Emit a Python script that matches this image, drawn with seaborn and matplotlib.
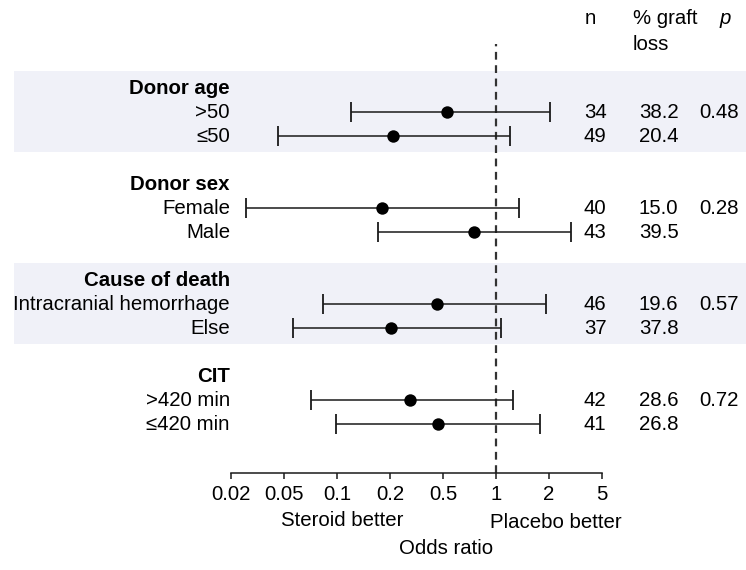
import numpy as np
import pandas as pd
import matplotlib
matplotlib.use("Agg")
import matplotlib.pyplot as plt
import matplotlib.transforms as mtransforms
import seaborn as sns

# ---------------- data ----------------
groups = ["Donor age", "Donor sex", "Cause of death", "CIT"]
subgroups = [">50", "≤50", "Female", "Male", "Intracranial hemorrhage", "Else",
             ">420 min", "≤420 min"]
group_of = [0, 0, 1, 1, 2, 2, 3, 3]
odds_ratio = [0.53, 0.21, 0.18, 0.755, 0.45, 0.205, 0.285, 0.46]
ci_low = [0.12, 0.045, 0.026, 0.17, 0.083, 0.056, 0.071, 0.098]
ci_high = [2.04, 1.2, 1.35, 2.93, 1.94, 1.07, 1.25, 1.79]
n_vals = ["34", "49", "40", "43", "46", "37", "42", "41"]
graft_loss = ["38.2", "20.4", "15.0", "39.5", "19.6", "37.8", "28.6", "26.8"]
p_vals = ["0.48", "0.28", "0.57", "0.72"]
tick_vals = [0.02, 0.05, 0.1, 0.2, 0.5, 1, 2, 5]
tick_labels = ["0.02", "0.05", "0.1", "0.2", "0.5", "1", "2", "5"]

# ---------------- style ----------------
sns.set_theme(style="white")
plt.rcParams["font.family"] = ["Liberation Sans", "DejaVu Sans"]
plt.rcParams["text.color"] = "black"
plt.rcParams["xtick.color"] = "black"
plt.rcParams["xtick.labelcolor"] = "black"
FS = 14.7
W, H = 746, 570

fig = plt.figure(figsize=(W / 100, H / 100), dpi=100)
x0, x1 = 231.3, 601.7
ytop, ybot = 44, 473
ax = fig.add_axes([x0 / W, (H - ybot) / H, (x1 - x0) / W, (ybot - ytop) / H])

# piecewise log scale with equally spaced ticks
lt = np.log(np.array(tick_vals, float))
idx = np.arange(len(tick_vals), dtype=float)


def fwd(x):
    x = np.asarray(x, float)
    lx = np.log(np.clip(x, 1e-12, None))
    y = np.interp(lx, lt, idx)
    y = np.where(lx < lt[0], (lx - lt[0]) / (lt[1] - lt[0]), y)
    y = np.where(lx > lt[-1], idx[-1] + (lx - lt[-1]) / (lt[-1] - lt[-2]), y)
    return y


def inv(y):
    y = np.asarray(y, float)
    lx = np.interp(y, idx, lt)
    lx = np.where(y < 0, lt[0] + y * (lt[1] - lt[0]), lx)
    lx = np.where(y > idx[-1], lt[-1] + (y - idx[-1]) * (lt[-1] - lt[-2]), lx)
    return np.exp(lx)


ax.set_xscale("function", functions=(fwd, inv))

# layout: slot units (pixel = 88 + 24*slot)
row_y = [g * 4 + (i % 2) + 1 for i, g in enumerate(group_of)]
head_y = [g * 4 for g in range(len(groups))]
slot_px, off_px = 24.0, 88.0
ax.set_ylim((ybot - off_px) / slot_px, (ytop - off_px) / slot_px)
ax.set_xlim(tick_vals[0], tick_vals[-1])

df = pd.DataFrame({"label": subgroups, "or": odds_ratio, "lo": ci_low,
                   "hi": ci_high, "y": row_y})

# shaded bands
bt = mtransforms.blended_transform_factory(fig.transFigure, ax.transData)
for g in (0, 2):
    ax.add_patch(plt.Rectangle((14 / W, head_y[g] - 0.72), 1, 3.4,
                               transform=bt, color="#F0F1F8", zorder=0,
                               clip_on=False, lw=0))

# reference line
ax.axvline(1, color="#333333", lw=1.6, ls=(0, (3.5, 2.5)), zorder=1)

# CIs
ax.errorbar(df["or"], df["y"],
            xerr=[df["or"] - df["lo"], df["hi"] - df["or"]],
            fmt="none", ecolor="#1a1a1a", elinewidth=1.1, capsize=7,
            capthick=1.3, zorder=2)
sns.scatterplot(data=df, x="or", y="y", ax=ax, color="black", s=80,
                edgecolor="black", linewidth=0, zorder=3, legend=False)

# axes styling
for s in ("top", "left", "right"):
    ax.spines[s].set_visible(False)
ax.spines["bottom"].set_color("#1a1a1a")
ax.spines["bottom"].set_linewidth(1.1)
ax.set_facecolor("none")
ax.set_yticks([])
ax.set_ylabel("")
ax.set_xlabel("")
ax.set_xticks(tick_vals)
ax.set_xticklabels(tick_labels, fontsize=FS, color="black")
ax.xaxis.set_minor_locator(matplotlib.ticker.NullLocator())
ax.tick_params(axis="x", direction="out", length=4, width=1.1,
               color="#1a1a1a", pad=5, bottom=True)

# left labels
for g, name in enumerate(groups):
    ax.text(230 / W, head_y[g], name, transform=bt, ha="right", va="center",
            fontsize=FS, fontweight="bold", color="black")
for lab, y in zip(subgroups, row_y):
    ax.text(230 / W, y, lab, transform=bt, ha="right", va="center",
            fontsize=FS, color="black")

# right columns
for nv, gl, y in zip(n_vals, graft_loss, row_y):
    ax.text(584 / W, y, nv, transform=bt, ha="left", va="center", fontsize=FS,
            color="black")
    ax.text(639 / W, y, gl, transform=bt, ha="left", va="center", fontsize=FS,
            color="black")
for g, pv in enumerate(p_vals):
    ax.text(699 / W, head_y[g] + 1, pv, transform=bt, ha="left", va="center",
            fontsize=FS, color="black")

# headers
fig.text(585 / W, 1 - 18 / H, "n", ha="left", va="center", fontsize=FS)
fig.text(633 / W, 1 - 18 / H, "% graft", ha="left", va="center", fontsize=FS)
fig.text(633 / W, 1 - 44 / H, "loss", ha="left", va="center", fontsize=FS)
fig.text(720 / W, 1 - 18 / H, "p", ha="left", va="center", fontsize=FS,
         style="italic")

# bottom annotations
fig.text(342 / W, 1 - 521 / H, "Steroid better", ha="center", va="center",
         fontsize=FS)
fig.text(556 / W, 1 - 523 / H, "Placebo better", ha="center", va="center",
         fontsize=FS)
fig.text(446 / W, 1 - 549 / H, "Odds ratio", ha="center", va="center",
         fontsize=FS)

fig.savefig("out.png", dpi=100)
